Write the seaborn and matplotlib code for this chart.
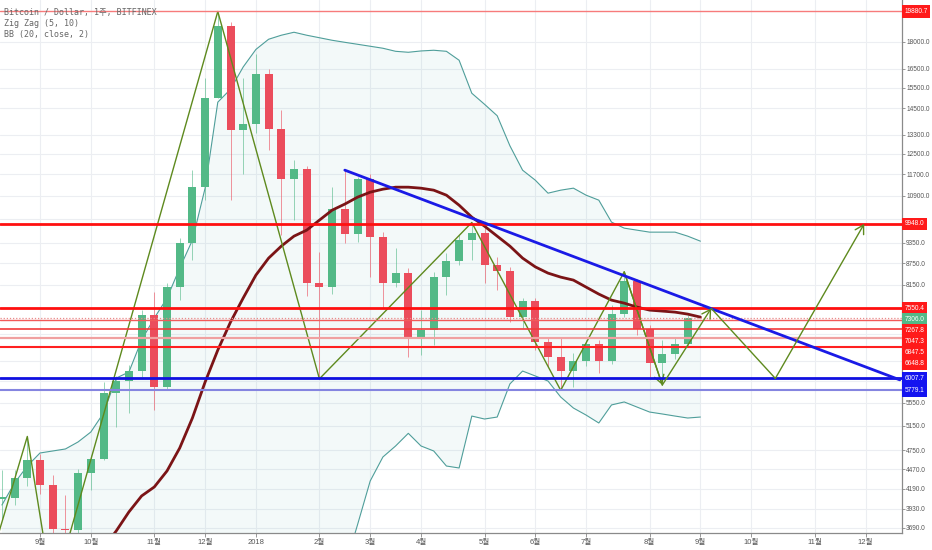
import numpy as np
import matplotlib
matplotlib.use("Agg")
import matplotlib.pyplot as plt
import seaborn as sns
from matplotlib.ticker import NullLocator

sns.set_theme(style="white")
plt.rcParams['font.family'] = ['Liberation Sans', 'Noto Sans CJK KR']

# === weekly candles (week 0 = first week of Sept 2017) ===
weeks = list(range(-3, 52))
opens = [4060, 4064, 4338, 4604, 4244, 3673, 3660, 4414, 4620, 5728, 5962, 6154,
         7387, 5834, 8083, 9330, 11200, 14997, 18990, 13498, 13795, 16230, 13572,
         11505, 11876, 8190, 8083, 10424, 9612, 11505, 9530, 8207, 8460, 6830, 7034,
         8367, 8808, 9431, 9658, 8693, 8533, 7345, 7731, 6770, 6434, 6160, 6364, 6714,
         6364, 7410, 8252, 7050, 6324, 6499, 6714]
highs = [4450, 4460, 4972, 4700, 4385, 4109, 4470, 4680, 5940, 6050, 6276, 7507,
         7960, 8200, 9500, 11848, 16020, 19880.7, 19180, 16020, 17320, 16500, 14408,
         12241, 12000, 9078, 11210, 11848, 11580, 11700, 9700, 9180, 8600, 7507, 8500,
         9030, 9600, 9990, 9800, 8930, 8650, 7800, 7800, 6880, 6880, 6523, 6808, 6800,
         7630, 8505, 8300, 7150, 6808, 6880, 7400]
lows = [3800, 3980, 4230, 4120, 2972, 3520, 3580, 4176, 4600, 5132, 5367, 6042,
        5419, 5800, 7756, 8836, 10745, 15000, 10745, 11720, 13356, 12646, 9600,
        10067, 7872, 6000, 7900, 9330, 9380, 8367, 7568, 8100, 6445, 6480, 6700,
        7882, 8693, 8836, 8190, 8013, 7230, 7073, 6600, 6240, 5779.1, 5847, 6250, 6108,
        6300, 7350, 6915, 6040, 5880, 6400, 6680]
closes = [4075, 4338, 4604, 4244, 3673, 3660, 4414, 4620, 5728, 5962, 6154, 7387,
          5834, 8083, 9330, 11200, 14997, 18990, 13498, 13795, 16230, 13572, 11505,
          11876, 8190, 8083, 10424, 9612, 11505, 9530, 8207, 8460, 6830, 7034, 8367,
          8808, 9431, 9658, 8693, 8533, 7345, 7731, 6770, 6434, 6160, 6364, 6714, 6364,
          7410, 8252, 7050, 6324, 6499, 6714, 7306]

# === Bollinger Bands (20, close, 2) ===
bb_weeks = list(range(-3, 53))
bb_upper = [3976, 4272, 4515, 4711, 4742, 4773, 4884, 5044, 5366, 6015, 6134, 6808,
            7315, 7807, 8609, 9431, 11174, 14792, 15428, 16592, 17567, 18160, 18400,
            18580, 18400, 18250, 18100, 17980, 17865, 17750, 17635, 17460, 17405,
            17480, 17520, 17460, 16958, 15228, 14690, 14150, 12830, 11848, 11468,
            10993, 11101, 11174, 10921, 10745, 10003, 9808, 9744, 9681, 9681, 9681,
            9555, 9400]
bb_basis = [np.nan] * 8 + [3455, 3653, 3887, 4095, 4217, 4443, 4788, 5280, 5937, 6590,
            7220, 7810, 8415, 8894, 9249, 9555, 9744, 10067, 10400, 10608, 10850,
            11028, 11137, 11210, 11210, 11173, 11101, 10921, 10570, 10166, 9871, 9555,
            9249, 8894, 8644, 8470, 8360, 8279, 8092, 7910, 7756, 7680, 7582, 7507,
            7483, 7458, 7410, 7338]
bb_lower = [np.nan] * 27 + [3240, 3727, 4300, 4650, 4820, 5023, 4820, 4742, 4515,
            4486, 5314, 5263, 5297, 5901, 6154, 6056, 5957, 5654, 5455, 5331, 5195,
            5510, 5564, 5473, 5384, 5350, 5314, 5280, 5297]

# === Zig Zag (5, 10) pivots ===
zz_weeks = [-4, -1, 1, 14, 22, 34, 41, 46, 49]
zz_prices = [3269, 4972, 2972, 19880.7, 6000, 9990, 5779, 8505, 5880]

# === drawings ===
proj_weeks = [49, 52.85, 57.9, 64.9]
proj_prices = [5880, 7550.4, 6007.7, 9948.0]
trend_weeks = [24, 67.7]
trend_prices = [11850, 5980]

red_levels = [19880.7, 9948.0, 7550.4, 7267.8, 7047.3, 6847.5, 6648.8]
blue_levels = [6007.7, 5779.1]
last_price = 7306.0

month_weeks = [0, 4, 9, 13, 17, 22, 26, 30, 35, 39, 43, 48, 52, 56, 61, 65]
month_labels = ['9월', '10월', '11월', '12월', '2018', '2월', '3월', '4월', '5월', '6월',
                '7월', '8월', '9월', '10월', '11월', '12월']
price_ticks = [18000, 16500, 15500, 14500, 13300, 12500, 11700, 10900, 10100, 9350,
               8750, 8150, 7550, 6950, 6350, 5950, 5550, 5150, 4750, 4470, 4190, 3930, 3690]
hidden_ticks = [10100, 7550, 6950, 6350, 5950]

GREEN = '#53b987'
RED = '#eb4d5c'
ZZ = '#5e8a1e'
YMIN, YMAX = 3629, 20640

fig = plt.figure(figsize=(9.32, 5.5), dpi=100)
ax = fig.add_axes([0, 1 - 533 / 550, 901.7 / 932, 533 / 550])
ax.set_yscale('log')
ax.set_xlim(-3.15, 67.85)
ax.set_ylim(YMIN, YMAX)

# grid
for w in month_weeks:
    ax.axvline(w, color='#eceef2', lw=0.8, zorder=0)
for p in price_ticks:
    ax.axhline(p, color='#eceef2', lw=0.8, zorder=0)

# BB fill and lines
fill_low = np.where(np.isnan(bb_lower), 1000, bb_lower)
ax.fill_between(bb_weeks, fill_low, bb_upper, color='#3a9ea5', alpha=0.06, lw=0, zorder=1)
sns.lineplot(x=bb_weeks, y=bb_upper, ax=ax, color='#4f9e9a', lw=0.8, estimator=None, zorder=2)
sns.lineplot(x=bb_weeks, y=bb_lower, ax=ax, color='#4f9e9a', lw=0.8, estimator=None, zorder=2)
sns.lineplot(x=bb_weeks, y=bb_basis, ax=ax, color='#7b1416', lw=2.0, estimator=None, zorder=4)

# candles
o = np.array(opens, float)
c = np.array(closes, float)
colors = [GREEN if cc >= oo else RED for oo, cc in zip(o, c)]
ax.vlines(weeks, lows, highs, colors=colors, lw=0.7, alpha=0.6, zorder=3)
ax.bar(weeks, np.maximum(np.abs(c - o), 10), bottom=np.minimum(o, c), width=0.63,
       color=colors, lw=0, zorder=3)

# zig zag
ax.plot(zz_weeks, zz_prices, color=ZZ, lw=1.0, zorder=5)
ax.annotate('', xy=(zz_weeks[-1], zz_prices[-1]), xytext=(zz_weeks[-2], zz_prices[-2]),
            arrowprops=dict(arrowstyle='->,head_length=0.6,head_width=0.35', color=ZZ,
                            lw=1.0, shrinkA=0, shrinkB=0, mutation_scale=10), zorder=6)

# horizontal levels
red_styles = [('#f77b7b', 1.0), ('#ff1010', 2.0), ('#ff1010', 2.0), ('#f25a5a', 1.0),
              ('#f23a3a', 1.2), ('#f0a0a0', 1.6), ('#ff2020', 1.5)]
for lvl, (col, lw) in zip(red_levels, red_styles):
    ax.axhline(lvl, color=col, lw=lw, zorder=6)
ax.axhline(last_price, color='#e88a8a', lw=0.9, ls=(0, (1, 1.5)), zorder=6)
ax.axhline(blue_levels[0], color='#1010e0', lw=2.0, zorder=6)
ax.axhline(blue_levels[1], color='#8585e0', lw=1.5, zorder=6)

# trend line and projection arrows
ax.plot(trend_weeks, trend_prices, color='#1a1ae6', lw=2.0, zorder=7)
arrow = dict(arrowstyle='->,head_length=0.6,head_width=0.35', color=ZZ, lw=1.0,
             shrinkA=0, shrinkB=0, mutation_scale=10)
ax.annotate('', xy=(proj_weeks[1], proj_prices[1]), xytext=(proj_weeks[0], proj_prices[0]),
            arrowprops=arrow, zorder=8)
ax.plot(proj_weeks[1:3], proj_prices[1:3], color=ZZ, lw=1.0, zorder=8)
ax.annotate('', xy=(proj_weeks[3], proj_prices[3]), xytext=(proj_weeks[2], proj_prices[2]),
            arrowprops=arrow, zorder=8)

# axes styling
ax.yaxis.tick_right()
ax.yaxis.set_minor_locator(NullLocator())
ax.set_yticks(price_ticks)
ax.set_yticklabels(['' if p in hidden_ticks else f'{p:.1f}' for p in price_ticks])
ax.set_xticks(month_weeks)
ax.set_xticklabels(month_labels)
ax.tick_params(axis='y', which='both', direction='out', length=2.2, width=0.6,
               color='#888888', labelcolor='#555555', labelsize=4.7, pad=1.0, right=True, left=False)
ax.tick_params(axis='x', direction='out', length=3, width=0.6, color='#888888',
               labelcolor='#555555', labelsize=5.5, pad=1.5, bottom=True)
for side in ['top', 'left']:
    ax.spines[side].set_visible(False)
for side in ['right', 'bottom']:
    ax.spines[side].set_color('#8a8a8a')
    ax.spines[side].set_linewidth(0.9)
ax.grid(False)

# price labels on the axis, stacked like TradingView
labels = [(19880.7, '#ff1a1a'), (9948.0, '#ff1a1a'), (7550.4, '#ff1a1a'), (7306.0, GREEN),
          (7267.8, '#ff1a1a'), (7047.3, '#ff1a1a'), (6847.5, '#ff1a1a'), (6648.8, '#ff1a1a'),
          (6007.7, '#1414f0'), (5779.1, '#1414f0')]
lmin, lmax = np.log(YMIN), np.log(YMAX)
gap = 11 / 533
prev = 2.0
for p, col in labels:
    f = (np.log(p) - lmin) / (lmax - lmin)
    f = min(f, prev - gap)
    prev = f
    ax.text(1.0 + 2.6 / 901.7, f, f'{p:.1f}', transform=ax.transAxes, ha='left', va='center',
            fontsize=4.7, color='white', zorder=20, clip_on=False,
            bbox=dict(boxstyle='square,pad=0.42', fc=col, ec='none'))

# legend text
mono = ['DejaVu Sans Mono', 'Noto Sans CJK KR']
for i, t in enumerate(['Bitcoin / Dollar, 1주, BITFINEX', 'Zig Zag (5, 10)', 'BB (20, close, 2)']):
    fig.text(4 / 932, 1 - (13 + 10.7 * i) / 550, t, family=mono, fontsize=6,
             color='#666666', va='center', ha='left')

fig.savefig('out.png', dpi=100, facecolor='white')
